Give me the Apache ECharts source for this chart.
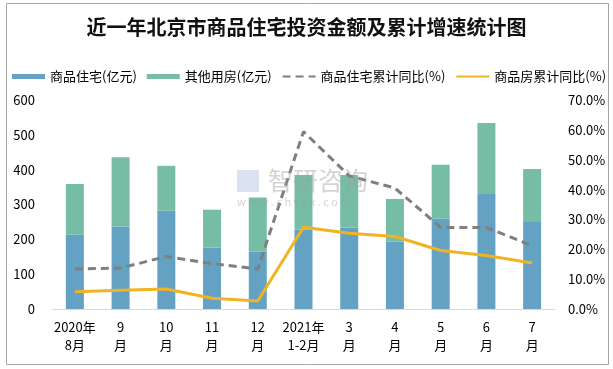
<!DOCTYPE html>
<html><head><meta charset="utf-8">
<script src="https://cdn.jsdelivr.net/npm/echarts@6/dist/echarts.min.js"></script>
<style>html,body{margin:0;padding:0;background:#fff}#c{width:613px;height:369px}</style>
</head><body><div id="c"></div>
<script>
const categories = ['2020年\n8月','9\n月','10\n月','11\n月','12\n月','2021年\n1-2月','3\n月','4\n月','5\n月','6\n月','7\n月'];
const residential = [213, 237, 282, 176, 164, 228, 234, 193, 259, 330, 250];
const totalInvest = [359, 436, 411, 285, 320, 385, 385, 316, 414, 534, 402];
const otherHousing = totalInvest.map((t, i) => t - residential[i]);
const residentialYoY = [13.4, 13.7, 17.6, 15.2, 13.4, 59.4, 44.6, 40.5, 27.3, 27.3, 21.2];
const housingYoY = [5.8, 6.3, 6.7, 3.6, 2.7, 27.4, 25.4, 24.3, 19.6, 17.9, 15.4];
const leftTicks = [0, 600, 100];
const rightTicks = [0, 70, 10];

const font = '"Noto Sans CJK SC", "Liberation Sans", sans-serif';
const chart = echarts.init(document.getElementById('c'), null, {renderer: 'canvas'});
chart.setOption({
  animation: false,
  backgroundColor: '#fff',
  title: {
    text: '近一年北京市商品住宅投资金额及累计增速统计图',
    left: 'center', top: 12,
    textStyle: {fontFamily: font, fontSize: 20, fontWeight: 'bold', color: '#111'}
  },
  legend: {
    top: 70, left: 12, width: 600, padding: 0,
    itemWidth: 33, itemHeight: 5, itemGap: 10,
    textStyle: {fontFamily: font, fontSize: 13, color: '#000'},
    data: [
      {name: '商品住宅(亿元)', icon: 'rect'},
      {name: '其他用房(亿元)', icon: 'rect'},
      {name: '商品住宅累计同比(%)', itemStyle: {opacity: 0}},
      {name: '商品房累计同比(%)', itemStyle: {opacity: 0}}
    ]
  },
  grid: {left: 52, right: 58, top: 100, bottom: 60},
  xAxis: {
    type: 'category', data: categories,
    axisLine: {lineStyle: {color: '#D9D9D9', width: 1}},
    axisTick: {show: false},
    axisLabel: {fontFamily: font, fontSize: 13, color: '#000', lineHeight: 18, margin: 9, interval: 0}
  },
  yAxis: [
    {type: 'value', min: leftTicks[0], max: leftTicks[1], interval: leftTicks[2],
     axisLine: {show: false}, axisTick: {show: false}, splitLine: {show: false},
     axisLabel: {fontFamily: font, fontSize: 13, color: '#000', margin: 17}},
    {type: 'value', min: rightTicks[0], max: rightTicks[1], interval: rightTicks[2],
     axisLine: {show: false}, axisTick: {show: false}, splitLine: {show: false},
     axisLabel: {fontFamily: font, fontSize: 13, color: '#000', margin: 13,
       formatter: v => v.toFixed(1) + '%'}}
  ],
  series: [
    {name: '商品住宅(亿元)', type: 'bar', stack: 'a', barWidth: 18, data: residential,
     itemStyle: {color: '#63A2C3'}},
    {name: '其他用房(亿元)', type: 'bar', stack: 'a', barWidth: 18, data: otherHousing,
     itemStyle: {color: '#76BDA5'}},
    {name: '商品住宅累计同比(%)', type: 'line', yAxisIndex: 1, data: residentialYoY,
     symbol: 'none', lineStyle: {color: '#7F7F7F', width: 3, type: [8, 5]},
     itemStyle: {color: '#7F7F7F'}, z: 5},
    {name: '商品房累计同比(%)', type: 'line', yAxisIndex: 1, data: housingYoY,
     symbol: 'none', lineStyle: {color: '#F0B323', width: 3},
     itemStyle: {color: '#F0B323'}, z: 6}
  ],
  graphic: [
    {type: 'rect', shape: {x: 6.5, y: 3.5, width: 602, height: 361},
     style: {fill: 'none', stroke: '#A6A6A6', lineWidth: 1}, z: 100, silent: true},
    {type: 'text', left: 268, top: 168, z: 50, silent: true,
     style: {text: '智研咨询', font: '25px ' + font, fill: 'rgba(160,160,160,0.45)'}},
    {type: 'rect', shape: {x: 237, y: 170, width: 22, height: 22},
     style: {fill: 'rgba(150,175,210,0.35)'}, z: 50, silent: true},
    {type: 'text', left: 237, top: 196, z: 50, silent: true,
     style: {text: 'w w w . c h y x x . c o m', font: '11px ' + font, fill: 'rgba(160,160,160,0.45)'}}
  ]
});
</script></body></html>
